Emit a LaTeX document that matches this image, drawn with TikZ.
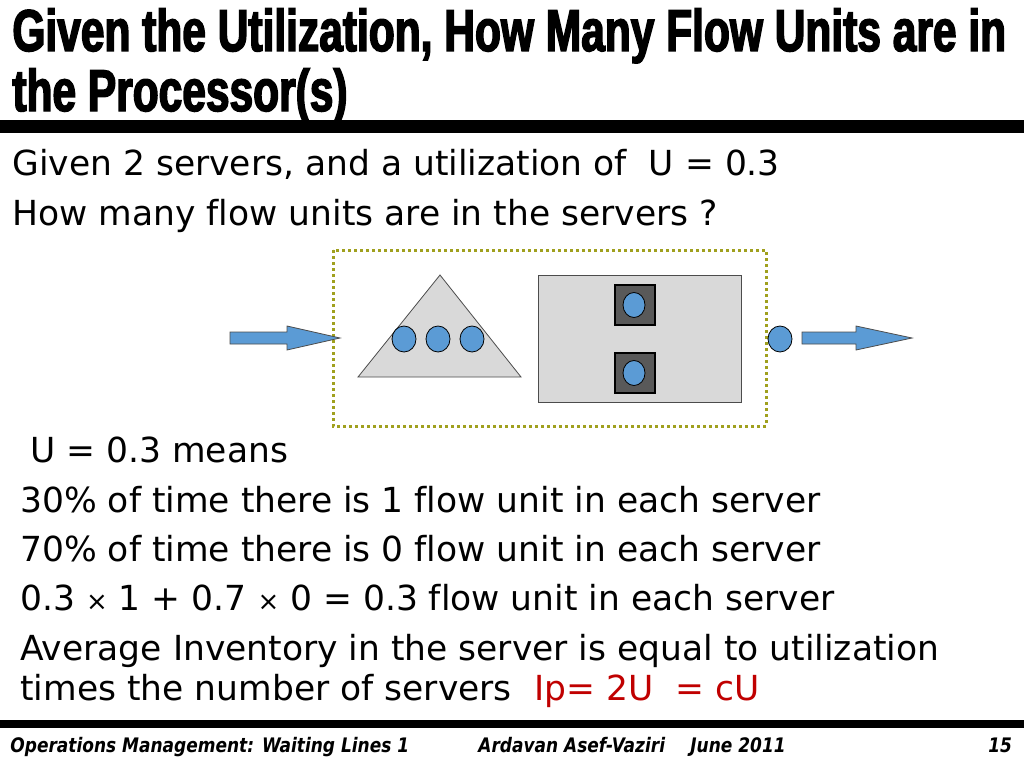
\documentclass[tikz,border=0pt]{standalone}
\usepackage{fontspec}
\setmainfont{DejaVu Sans}[Ligatures=NoCommon]
\newfontfamily\titlefont[FakeStretch=0.72,FakeBold=2.5]{Liberation Sans}
\newfontfamily\footfont[FakeStretch=0.85]{DejaVu Sans}
\newfontfamily\redfont[Ligatures=NoCommon]{DejaVu Sans}
\usetikzlibrary{calc,positioning}
\definecolor{flowblue}{RGB}{91,155,213}
\definecolor{boxgray}{RGB}{217,217,217}
\definecolor{servgray}{RGB}{89,89,89}
\definecolor{dotolive}{RGB}{160,160,30}
\definecolor{ipred}{RGB}{192,0,0}
\newcommand{\smalltimes}{{\fontsize{26}{26}\selectfont ×}}
\tikzstyle{headline}=[anchor=base west,inner sep=0pt,font=\titlefont\bfseries\fontsize{59}{58}\selectfont]
\tikzstyle{body}=[anchor=base west,inner sep=0pt,font=\fontsize{34.5}{40}\selectfont]
\tikzstyle{foot}=[anchor=base west,inner sep=0pt,font=\footfont\bfseries\itshape\fontsize{20}{22}\selectfont]
\tikzstyle{unit}=[draw=black,fill=flowblue,line width=0.8pt]
\tikzstyle{blockarrow}=[draw=black!70,fill=flowblue,line width=0.8pt]
\tikzstyle{station}=[draw=black!70,fill=boxgray,line width=0.8pt]
\tikzstyle{server}=[draw=black,fill=servgray,line width=2.5pt]
\tikzstyle{system}=[draw=dotolive,line width=3pt,dash pattern=on 3pt off 3pt]

\begin{document}
\begin{tikzpicture}[x=1pt,y=-1pt,line width=0.8pt]
\useasboundingbox (0,0) rectangle (1024,768);

% % % % % % % % % % title % % % % % % % % % %
\node[headline] (title1) at (12,51) {Given the Utilization, How Many Flow Units are in};
\node[headline] (title2) at (12,111) {the Processor(s)};
\fill (0,120) rectangle (1024,133);

\node[body] (given) at (12,175) {Given 2 servers, and a utilization of\ \ U = 0.3};
\node[body] (howmany) at (12,225) {How many flow units are in the servers ?};

% % % % % % % % % % process % % % % % % % % % %
\draw[system] (333,250) rectangle (766,426);

\coordinate (inA) at (230,338);
\coordinate (inB) at (340,338);
\draw[blockarrow] ($(inA)+(0,-6)$) -- ($(inA)+(57,-6)$) -- ($(inA)+(57,-12)$) -- (inB)
  -- ($(inA)+(57,12)$) -- ($(inA)+(57,6)$) -- ($(inA)+(0,6)$) -- cycle;

\coordinate (apex) at (440,275);
\coordinate (baseL) at (358,377);
\coordinate (baseR) at (521,377);
\draw[station] (apex) -- (baseL) -- (baseR) -- cycle;
\foreach \x in {404,438,472} {
\draw[unit] (\x,339) ellipse (12 and 13);
}

\draw[station] (538,275) rectangle (741,402);
\foreach \y in {305,373} {
\draw[server] (615,\y-20) rectangle (655,\y+20);
\draw[unit] (634,\y) ellipse (11 and 12.5);
}

\draw[unit] (780,339) ellipse (12 and 13);

\coordinate (outA) at (802,338);
\coordinate (outB) at (912,338);
\draw[blockarrow] ($(outA)+(0,-6)$) -- ($(outA)+(54,-6)$) -- ($(outA)+(54,-12)$) -- (outB)
  -- ($(outA)+(54,12)$) -- ($(outA)+(54,6)$) -- ($(outA)+(0,6)$) -- cycle;

% % % % % % % % % % explanation % % % % % % % % % %
\node[body] (means) at (30,462) {U = 0.3 means};
\node[body] (busy) at (20,512) {30\% of time there is 1 flow unit in each server};
\node[body] (idle) at (20,561) {70\% of time there is 0 flow unit in each server};
\node[body] (mix) at (20,610) {0.3 \smalltimes{} 1 + 0.7 \smalltimes{} 0 = 0.3 flow unit in each server};
\node[body] (avg1) at (20,660) {Average Inventory in the server is equal to utilization};
\node[body] (avg2) at (20,700) {times the number of servers};
\node[body,font=\redfont\fontsize{34.5}{40}\selectfont,text=ipred,right=22pt of avg2.base east,anchor=base west] (ipeq) {Ip= 2U\ \ = cU};

% % % % % % % % % % footer % % % % % % % % % %
\fill (0,720) rectangle (1024,728);
\node[foot] (course) at (10,752) {Operations Management: Waiting Lines 1};
\node[foot] (author) at (478,752) {Ardavan Asef-Vaziri};
\node[foot] (date) at (690,752) {June 2011};
\node[foot] (page) at (988,752) {15};

\end{tikzpicture}
\end{document}
